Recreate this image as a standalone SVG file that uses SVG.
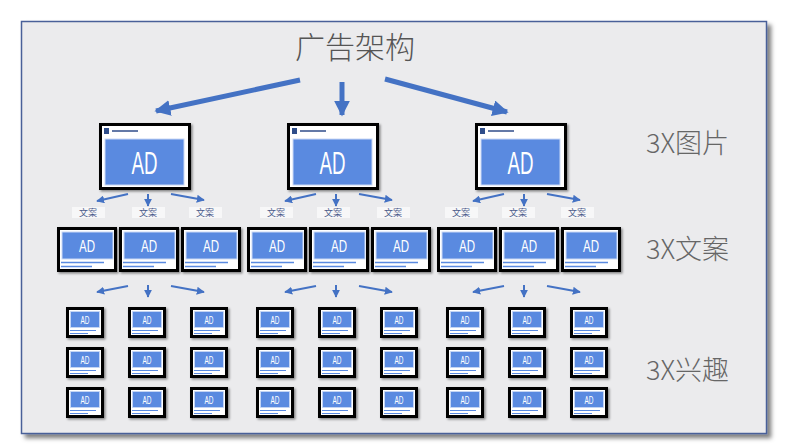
<svg xmlns="http://www.w3.org/2000/svg" xmlns:xlink="http://www.w3.org/1999/xlink" width="798" height="446" viewBox="0 0 798 446">
<defs>
<style>
.ad{font-family:"Liberation Sans","DejaVu Sans",sans-serif;fill:#fff;text-anchor:middle}
.lbl{font-family:"Noto Sans CJK SC",sans-serif;font-weight:300;fill:#666;font-size:27px}
.wa{font-family:"Noto Sans CJK SC",sans-serif;fill:#4a5a8a;font-size:9px;text-anchor:middle}
.arr{stroke:#4472c4;fill:none}
</style>
<filter id="sh" x="-20%" y="-20%" width="150%" height="150%">
<feDropShadow dx="1.5" dy="1.5" stdDeviation="1.2" flood-color="#000" flood-opacity="0.45"/>
</filter>
<filter id="fsh" x="-5%" y="-5%" width="110%" height="110%">
<feDropShadow dx="4" dy="4" stdDeviation="2" flood-color="#000" flood-opacity="0.5"/>
</filter>
<marker id="mb" viewBox="0 0 10 10" refX="9" refY="5" markerWidth="3.2" markerHeight="3.2" orient="auto" markerUnits="strokeWidth">
<path d="M0,0 L10,5 L0,10 z" fill="#4472c4"/>
</marker>
<marker id="ms" viewBox="0 0 10 10" refX="9" refY="5" markerWidth="4" markerHeight="4" orient="auto" markerUnits="strokeWidth">
<path d="M0,0 L10,5 L0,10 z" fill="#4472c4"/>
</marker>
<g id="big">
<rect x="1.5" y="1.5" width="89" height="64" fill="#fff" stroke="#000" stroke-width="3" filter="url(#sh)"/>
<rect x="6" y="16" width="79" height="46" fill="#5a8ae0" stroke="#c9d8f5" stroke-width="1"/>
<rect x="5" y="5" width="5" height="6" fill="#2f4d8a"/>
<line x1="13" y1="8" x2="39" y2="8" stroke="#2f4d8a" stroke-width="1.5"/>
<text class="ad" x="45.5" y="51" font-size="31" textLength="26" lengthAdjust="spacingAndGlyphs">AD</text>
</g>
<g id="med">
<rect x="1.5" y="1.5" width="57" height="42" fill="#fff" stroke="#000" stroke-width="3" filter="url(#sh)"/>
<rect x="5" y="5" width="51" height="27" fill="#5a8ae0" stroke="#c9d8f5" stroke-width="1"/>
<line x1="4" y1="35.5" x2="47" y2="35.5" stroke="#5a8ae0" stroke-width="1.5"/>
<line x1="4" y1="39.5" x2="35" y2="39.5" stroke="#5a8ae0" stroke-width="1.5"/>
<text class="ad" x="30" y="24.5" font-size="17" textLength="16" lengthAdjust="spacingAndGlyphs">AD</text>
</g>
<g id="sm">
<rect x="1.5" y="1.5" width="35" height="28" fill="#fff" stroke="#000" stroke-width="3" filter="url(#sh)"/>
<rect x="4.5" y="4.5" width="29" height="16" fill="#5a8ae0" stroke="#c9d8f5" stroke-width="0.8"/>
<line x1="4" y1="23.5" x2="30" y2="23.5" stroke="#5a8ae0" stroke-width="1"/>
<line x1="4" y1="26.5" x2="22" y2="26.5" stroke="#5a8ae0" stroke-width="1"/>
<text class="ad" x="19" y="16.5" font-size="10.5" textLength="9" lengthAdjust="spacingAndGlyphs">AD</text>
</g>
<g id="wab">
<rect x="-16" y="0" width="33" height="11" fill="#f7f7f8"/>
<text class="wa" x="0" y="9">文案</text>
</g>
</defs>
<rect width="798" height="446" fill="#fff"/>
<g id="frame">
<rect x="21.5" y="21.5" width="745" height="412" fill="#ebebed" stroke="#4a6199" stroke-width="1.5" filter="url(#fsh)"/>
</g>
<g id="title"><text x="355" y="58" font-family="Noto Sans CJK SC, sans-serif" font-weight="300" font-size="30" fill="#555" text-anchor="middle">广告架构</text></g>
<g id="labels">
<text class="lbl" x="646" y="153">3X图片</text>
<text class="lbl" x="646" y="259">3X文案</text>
<text class="lbl" x="646" y="380">3X兴趣</text>
</g>
<g id="connectors">
<line class="arr" x1="300" y1="80" x2="156" y2="111" stroke-width="5" marker-end="url(#mb)"/>
<line class="arr" x1="342" y1="82" x2="342" y2="115" stroke-width="5" marker-end="url(#mb)"/>
<line class="arr" x1="385" y1="79" x2="507" y2="112" stroke-width="5" marker-end="url(#mb)"/>
<g id="c1">
<line class="arr" x1="128" y1="194" x2="97" y2="201" stroke-width="2" marker-end="url(#ms)"/>
<line class="arr" x1="148" y1="194" x2="148" y2="206" stroke-width="2" marker-end="url(#ms)"/>
<line class="arr" x1="171" y1="194" x2="204" y2="200" stroke-width="2" marker-end="url(#ms)"/>
<line class="arr" x1="128" y1="286" x2="97" y2="292" stroke-width="2" marker-end="url(#ms)"/>
<line class="arr" x1="148" y1="285" x2="148" y2="297" stroke-width="2" marker-end="url(#ms)"/>
<line class="arr" x1="171" y1="286" x2="204" y2="292" stroke-width="2" marker-end="url(#ms)"/>
</g>
<use xlink:href="#c1" transform="translate(188,0)"/>
<use xlink:href="#c1" transform="translate(376,0)"/>
</g>
<g id="n-big1" transform="translate(99,123)"><use xlink:href="#big"/></g>
<g id="n-big2" transform="translate(287,123)"><use xlink:href="#big"/></g>
<g id="n-big3" transform="translate(475,123)"><use xlink:href="#big"/></g>
<g id="n-wa">
<use xlink:href="#wab" x="88" y="207"/><use xlink:href="#wab" x="148" y="207"/><use xlink:href="#wab" x="205" y="207"/>
<use xlink:href="#wab" x="276" y="207"/><use xlink:href="#wab" x="333" y="207"/><use xlink:href="#wab" x="393" y="207"/>
<use xlink:href="#wab" x="461" y="207"/><use xlink:href="#wab" x="518" y="207"/><use xlink:href="#wab" x="577" y="207"/>
</g>
<g id="n-med">
<use xlink:href="#med" x="57" y="227"/><use xlink:href="#med" x="119" y="227"/><use xlink:href="#med" x="181" y="227"/>
<use xlink:href="#med" x="247" y="227"/><use xlink:href="#med" x="309" y="227"/><use xlink:href="#med" x="371" y="227"/>
<use xlink:href="#med" x="437" y="227"/><use xlink:href="#med" x="499" y="227"/><use xlink:href="#med" x="561" y="227"/>
</g>
<g id="n-sm1">
<use xlink:href="#sm" x="66" y="307"/><use xlink:href="#sm" x="128" y="307"/><use xlink:href="#sm" x="190" y="307"/>
<use xlink:href="#sm" x="66" y="347"/><use xlink:href="#sm" x="128" y="347"/><use xlink:href="#sm" x="190" y="347"/>
<use xlink:href="#sm" x="66" y="387"/><use xlink:href="#sm" x="128" y="387"/><use xlink:href="#sm" x="190" y="387"/>
</g>
<g id="n-sm2" transform="translate(190,0)"><use xlink:href="#n-sm1"/></g>
<g id="n-sm3" transform="translate(380,0)"><use xlink:href="#n-sm1"/></g>
</svg>
